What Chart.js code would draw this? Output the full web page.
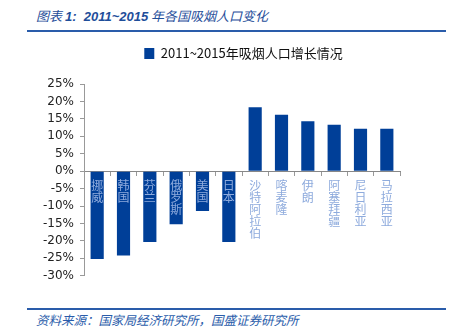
<!DOCTYPE html>
<html>
<head>
<meta charset="utf-8">
<script src="https://cdn.jsdelivr.net/npm/chart.js@4"></script>
<style>
  body { margin: 0; background: #fff; width: 457px; height: 331px; overflow: hidden; position: relative; }
  .title { position: absolute; left: 36px; top: 6px; font: italic 13px "Noto Sans CJK SC"; color: #1f4e9a; white-space: nowrap; }
  .title b { font-family: "Liberation Sans"; font-style: italic; }
  .rule { position: absolute; left: 27px; width: 419px; height: 2px; background: #2a5caa; }
  .source { position: absolute; left: 36px; top: 310px; font: italic 12.5px "Noto Sans CJK SC"; color: #2a5caa; white-space: nowrap; }
  #wrap { position: absolute; left: 0; top: 37px; width: 457px; height: 252px; }
</style>
</head>
<body>
<div class="title">图表 <b>1:&nbsp; 2011~2015</b> 年各国吸烟人口变化</div>
<div class="rule" style="top:30px"></div>
<div id="wrap"><canvas id="chart"></canvas></div>
<div class="rule" style="top:308px"></div>
<div class="source">资料来源：国家局经济研究所，国盛证券研究所</div>
<script>
// 2011~2015 smoking population change by country
const countries = ['挪威', '韩国', '芬兰', '俄罗斯', '美国', '日本', '沙特阿拉伯', '喀麦隆', '伊朗', '阿塞拜疆', '尼日利亚', '马拉西亚'];
const growth = [-25.2, -24.2, -20.3, -15.2, -11.4, -20.3, 18.3, 16.2, 14.3, 13.3, 12.2, 12.2];
const yTicks = [25, 20, 15, 10, 5, 0, -5, -10, -15, -20, -25, -30];

// extra room under the legend, and push it a bit to the right
const legendSpace = {
  id: 'legendSpace',
  beforeInit(chart) {
    const fit = chart.legend.fit;
    chart.legend.fit = function () {
      fit.bind(chart.legend)();
      this.height += 14;
    };
  },
  afterLayout(chart) {
    chart.legend.left += 50;
  }
};

const ctx = document.getElementById('chart');

var chart = new Chart(ctx, {
  type: 'bar',
  data: {
    labels: countries.map(c => c.split('')),
    datasets: [{
      label: '2011~2015年吸烟人口增长情况',
      data: growth,
      backgroundColor: '#003f98',
      barPercentage: 0.5,
      categoryPercentage: 1
    }]
  },
  options: {
    responsive: true,
    maintainAspectRatio: false,
    animation: false,
    layout: {
      padding: { left: 37, right: 57, top: 0, bottom: 0 }
    },
    scales: {
      x: {
        position: { y: 0 },
        grid: {
          drawOnChartArea: false,
          drawTicks: true,
          tickLength: 4,
          color: '#999'
        },
        border: { color: '#888' },
        ticks: {
          z: 1,
          color: '#8eabdd',
          padding: 4,
          maxRotation: 0,
          autoSkip: false,
          font: { family: 'Noto Sans CJK SC', size: 12, lineHeight: 1.0 }
        }
      },
      y: {
        min: -30,
        max: 25,
        afterBuildTicks: (axis) => { axis.ticks = yTicks.map(v => ({ value: v })); },
        grid: {
          drawOnChartArea: false,
          tickLength: 4,
          color: '#999'
        },
        border: { color: '#999' },
        ticks: {
          autoSkip: false,
          color: '#222',
          padding: 6,
          font: { family: 'DejaVu Sans', size: 12 },
          callback: v => v + '%'
        }
      }
    },
    plugins: {
      legend: {
        display: true,
        position: 'top',
        labels: {
          color: '#111',
          boxWidth: 10,
          boxHeight: 11,
          padding: 10,
          font: { family: 'Noto Sans CJK SC', size: 13 }
        }
      },
      tooltip: { enabled: false }
    }
  },
  plugins: [legendSpace]
});
</script>
</body>
</html>
